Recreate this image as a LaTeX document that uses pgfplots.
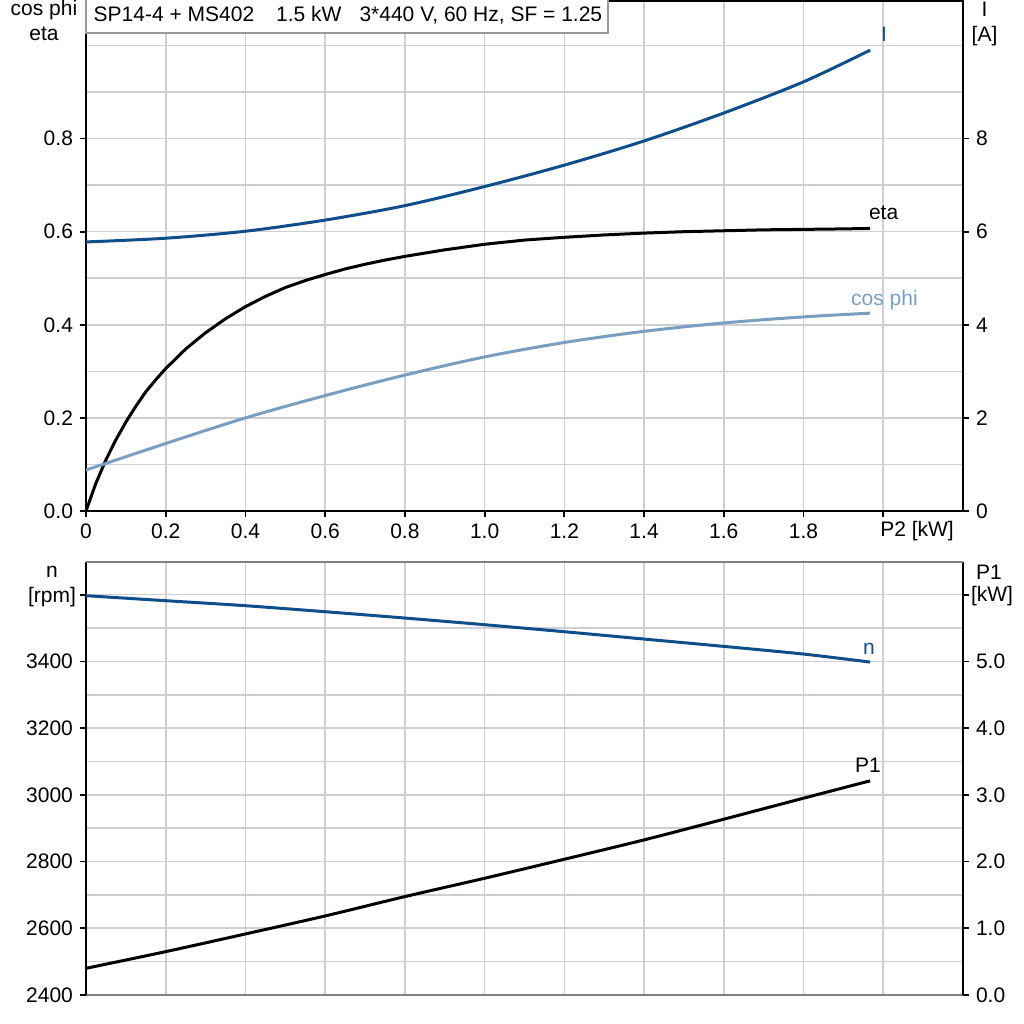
\documentclass[border=0pt]{standalone}
\usepackage{fontspec}
\setmainfont{Liberation Sans}
\usepackage{pgfplots}
\pgfplotsset{compat=1.18}
\definecolor{dblue}{RGB}{16,78,139}
\definecolor{lblue}{RGB}{122,158,194}
\definecolor{gridc}{RGB}{205,207,210}
\begin{document}
\begin{tikzpicture}[x=1pt,y=1pt,font=\fontsize{10.5}{12}\selectfont]
\useasboundingbox (0,0) rectangle (512,512);
\pgfplotsset{
  common/.style={
    scale only axis, width=438.5pt, xmin=0, xmax=2.2,
    tick align=outside, major tick length=3pt, minor tick length=0pt,
    tick style={black, line width=0.9pt},
    axis line style={black, line width=1.1pt},
    tick label style={font=\fontsize{10.5}{12}\selectfont},
    grid style={gridc, line width=0.8pt},
    minor grid style={gridc, line width=0.8pt},
    clip=true,
  },
}
% ---------- top: cos phi / eta ----------
\begin{axis}[common, at={(43pt,256.5pt)}, anchor=south west, height=255pt,
  ymin=0, ymax=1.0956,
  xtick={0,0.2,0.4,0.6,0.8,1.0,1.2,1.4,1.6,1.8,2.0},
  xticklabels={0,0.2,0.4,0.6,0.8,1.0,1.2,1.4,1.6,1.8,{}},
  ytick={0,0.2,0.4,0.6,0.8}, yticklabels={0.0,0.2,0.4,0.6,0.8},
  minor ytick={0.1,0.3,0.5,0.7,0.9,1.0},
  xmajorgrids, ymajorgrids, yminorgrids,
  xtick pos=left, ytick pos=left]
\addplot[black, line width=1.5pt, line join=round] coordinates {
 (0,0) (0.025,0.060) (0.05,0.110) (0.075,0.153) (0.1,0.191) (0.125,0.225)
 (0.15,0.256) (0.175,0.282) (0.2,0.306) (0.25,0.348) (0.3,0.383) (0.35,0.413)
 (0.4,0.439) (0.45,0.461) (0.5,0.480) (0.55,0.495) (0.6,0.508) (0.65,0.520)
 (0.7,0.530) (0.75,0.539) (0.8,0.547) (0.85,0.554) (0.9,0.561) (0.95,0.567)
 (1.0,0.573) (1.1,0.582) (1.2,0.588) (1.3,0.593) (1.4,0.597) (1.5,0.600)
 (1.6,0.602) (1.7,0.604) (1.8,0.605) (1.9,0.606) (1.967,0.607)};
\addplot[lblue, line width=1.5pt, smooth] coordinates {
 (0,0.088) (0.2,0.145) (0.4,0.200) (0.6,0.248) (0.8,0.292) (1.0,0.331)
 (1.2,0.362) (1.4,0.386) (1.6,0.404) (1.8,0.417) (1.967,0.425)};
\end{axis}
\begin{axis}[common, at={(43pt,256.5pt)}, anchor=south west, height=255pt,
  ymin=0, ymax=10.956, hide x axis, axis y line*=right,
  ytick={0,2,4,6,8}, yticklabels={0,2,4,6,8}]
\addplot[dblue, line width=1.5pt, smooth] coordinates {
 (0,5.78) (0.2,5.86) (0.4,6.01) (0.6,6.25) (0.8,6.56) (1.0,6.97)
 (1.2,7.43) (1.4,7.95) (1.6,8.55) (1.8,9.22) (1.967,9.90)};
\end{axis}
% ---------- bottom: n / P1 ----------
\begin{axis}[common, at={(43pt,14.5pt)}, anchor=south west, height=216.5pt,
  ymin=2400, ymax=3698,
  axis x line*=bottom, axis y line*=left,
  x axis line style={color=gray, line width=1.1pt},
  xtick={0,0.2,0.4,0.6,0.8,1.0,1.2,1.4,1.6,1.8,2.0}, xticklabels={},
  xtick style={draw=none},
  ytick={2400,2600,2800,3000,3200,3400,3600},
  yticklabels={2400,2600,2800,3000,3200,3400,{}},
  minor ytick={2500,2700,2900,3100,3300,3500},
  xmajorgrids, ymajorgrids, yminorgrids]
\addplot[dblue, line width=1.5pt, smooth] coordinates {
 (0,3597) (0.2,3582) (0.4,3567) (0.6,3549) (0.8,3530) (1.0,3510)
 (1.2,3489) (1.4,3467) (1.6,3445) (1.8,3422) (1.967,3398)};
\end{axis}
\begin{axis}[common, at={(43pt,14.5pt)}, anchor=south west, height=216.5pt,
  ymin=0, ymax=6.49, hide x axis, axis y line*=right,
  ytick={0,1,2,3,4,5,6}, yticklabels={0.0,1.0,2.0,3.0,4.0,5.0,{}}]
\addplot[black, line width=1.5pt, smooth] coordinates {
 (0,0.40) (0.2,0.65) (0.4,0.915) (0.6,1.185) (0.8,1.475) (1.0,1.75)
 (1.2,2.035) (1.4,2.325) (1.6,2.635) (1.8,2.95) (1.967,3.21)};
\end{axis}
\draw[gray, line width=1.1pt] (43,231) -- (481.5,231);
% ---------- texts ----------
\draw[gray!80, line width=0.6pt, fill=white] (43,495.5) rectangle (304,512.5);
\node[anchor=base west, inner sep=0pt] at (46.65,501.15)
  {SP14-4 + MS402\hspace{11pt}1.5 kW\hspace{9pt}3*440 V, 60 Hz, SF = 1.25};
\node[anchor=base, inner sep=0pt] at (22,504.25) {cos phi};
\node[anchor=base, inner sep=0pt] at (22,491.75) {eta};
\node[anchor=base, inner sep=0pt] at (492.25,503.5) {I};
\node[anchor=base, inner sep=0pt] at (492.25,491) {[A]};
\node[anchor=base, inner sep=0pt] at (26,223) {n};
\node[anchor=base, inner sep=0pt] at (26,210.5) {[rpm]};
\node[anchor=base, inner sep=0pt] at (494.5,222) {P1};
\node[anchor=base, inner sep=0pt] at (496,211) {[kW]};
\node[anchor=base, inner sep=0pt] at (458.5,243.5) {P2 [kW]};
\node[anchor=base, inner sep=0pt, text=dblue] at (442,491) {I};
\node[anchor=base, inner sep=0pt] at (441.8,402.25) {eta};
\node[anchor=base, inner sep=0pt, text=lblue] at (442.25,359) {cos phi};
\node[anchor=base, inner sep=0pt, text=dblue] at (434.5,184.75) {n};
\node[anchor=base, inner sep=0pt] at (434,125.5) {P1};
\end{tikzpicture}
\end{document}
